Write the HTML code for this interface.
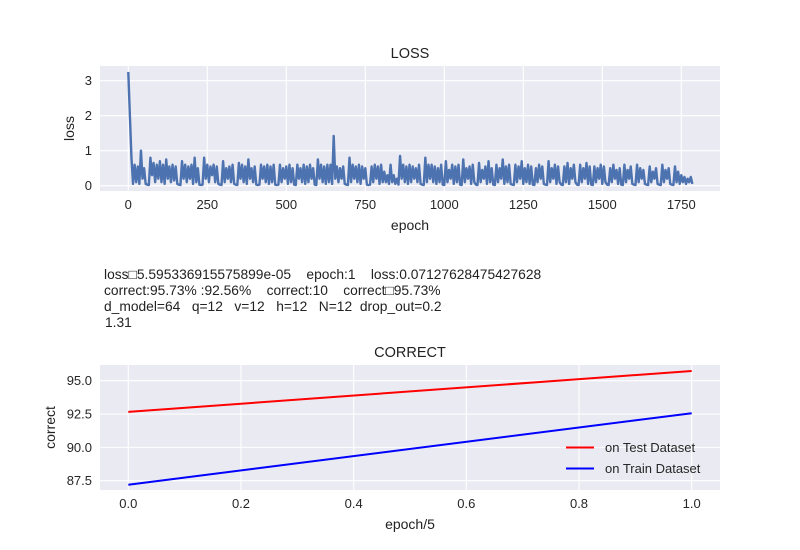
<!DOCTYPE html>
<html><head><meta charset="utf-8"><style>
body{margin:0;background:#fff;}
svg{display:block;font-family:"Liberation Sans","DejaVu Sans",sans-serif;}
</style></head><body>
<svg id="chart" width="800" height="550">
<g id="topChart"></g>
<g id="botChart"></g>
<g font-size="13.8" fill="#222">
<text x="104" y="279" xml:space="preserve">loss□5.595336915575899e-05    epoch:1    loss:0.07127628475427628</text>
<text x="104" y="295" xml:space="preserve">correct:95.73% :92.56%    correct:10    correct□95.73%</text>
<text x="104" y="311" xml:space="preserve">d_model=64   q=12   v=12   h=12   N=12  drop_out=0.2</text>
<text x="105" y="327">1.31</text>
</g>
</svg>
<script>
const lossValues=[
3.25,2.0,0.8,0.05,0.6,0.1,0.55,0.05,1.0,0.2,0.5,0.05,
0.03,0.02,0.8,0.3,0.65,0.1,0.6,0.2,0.7,0.1,0.6,0.05,
0.75,0.2,0.55,0.1,0.6,0.15,0.55,0.05,0.03,0.02,0.7,0.2,
0.6,0.1,0.55,0.2,0.6,0.05,0.8,0.1,0.5,0.03,0.02,0.03,
0.8,0.2,0.6,0.1,0.55,0.3,0.6,0.1,0.55,0.05,0.03,0.02,
0.7,0.1,0.5,0.2,0.55,0.1,0.6,0.05,0.03,0.02,0.65,0.2,
0.6,0.1,0.55,0.05,0.75,0.2,0.5,0.1,0.55,0.03,0.02,0.03,
0.6,0.2,0.55,0.1,0.6,0.05,0.55,0.1,0.6,0.03,0.02,0.03,
0.6,0.1,0.5,0.2,0.55,0.05,0.6,0.1,0.5,0.03,0.02,0.6,
0.2,0.5,0.1,0.6,0.05,0.55,0.1,0.6,0.2,0.5,0.03,0.02,
0.75,0.2,0.6,0.1,0.55,0.05,0.6,0.1,0.6,0.05,1.42,0.2,
0.55,0.1,0.5,0.2,0.55,0.05,0.03,0.02,0.8,0.1,0.6,0.2,
0.55,0.1,0.6,0.05,0.55,0.2,0.5,0.03,0.02,0.03,0.55,0.1,
0.6,0.2,0.55,0.05,0.6,0.1,0.4,0.1,0.3,0.05,0.6,0.1,
0.3,0.05,0.2,0.03,0.85,0.2,0.6,0.1,0.55,0.05,0.6,0.1,
0.55,0.2,0.5,0.1,0.6,0.05,0.03,0.02,0.8,0.1,0.6,0.2,
0.6,0.1,0.55,0.05,0.5,0.1,0.6,0.03,0.02,0.7,0.1,0.45,
0.2,0.6,0.05,0.55,0.1,0.6,0.03,0.02,0.75,0.1,0.5,0.2,
0.55,0.05,0.6,0.1,0.03,0.02,0.65,0.1,0.45,0.2,0.55,0.05,
0.7,0.1,0.5,0.03,0.02,0.6,0.1,0.5,0.2,0.75,0.05,0.55,
0.1,0.6,0.05,0.03,0.02,0.6,0.1,0.55,0.2,0.7,0.05,0.5,
0.1,0.6,0.05,0.55,0.03,0.02,0.5,0.1,0.6,0.2,0.55,0.05,
0.03,0.02,0.7,0.1,0.5,0.2,0.6,0.05,0.55,0.1,0.03,0.02,
0.55,0.1,0.65,0.05,0.5,0.2,0.6,0.1,0.03,0.02,0.6,0.1,
0.5,0.2,0.65,0.05,0.55,0.03,0.02,0.55,0.1,0.5,0.2,0.6,
0.05,0.55,0.1,0.03,0.02,0.5,0.1,0.6,0.2,0.45,0.05,0.5,
0.03,0.02,0.6,0.1,0.45,0.2,0.55,0.05,0.03,0.02,0.6,0.1,
0.5,0.2,0.45,0.05,0.03,0.02,0.55,0.1,0.4,0.2,0.5,0.05,
0.03,0.02,0.6,0.1,0.45,0.2,0.5,0.05,0.03,0.02,0.55,0.1,
0.4,0.05,0.3,0.1,0.25,0.05,0.2,0.1,0.25,0.05];
const lossEpochStep=5;
const lossXTicks=[0,250,500,750,1000,1250,1500,1750];
const lossYTicks=[0,1,2,3];
const corrX=[0,1];
const testCorrect=[92.66,95.73];
const trainCorrect=[87.2,92.56];
const corrXTicks=[0,0.2,0.4,0.6,0.8,1.0];
const corrYTicks=[87.5,90.0,92.5,95.0];

const NS="http://www.w3.org/2000/svg";
function mk(p,tag,at,txt){const e=document.createElementNS(NS,tag);for(const k in at)e.setAttribute(k,at[k]);if(txt!==undefined)e.textContent=txt;p.appendChild(e);return e;}

function axes(g,L,T,R,B,xs,ys,xt,yt,xfmt,yfmt,title,xl,yl,ylx){
  const bg=mk(g,'rect',{x:L,y:T,width:R-L,height:B-T,fill:'#eaeaf2'});
  
  
  xt.forEach(v=>{const x=xs(v);
    const l=mk(g,'line',{x1:x,x2:x,y1:T,y2:B,stroke:'#fff','stroke-width':1.1});
    
    
    const t=mk(g,'text',{x:x,y:B+18,'text-anchor':'middle','font-size':13,fill:'#262626'},xfmt(v));
    
    });
  yt.forEach(v=>{const y=ys(v);
    const l=mk(g,'line',{x1:L,x2:R,y1:y,y2:y,stroke:'#fff','stroke-width':1.1});
    
    
    const t=mk(g,'text',{x:L-8,y:y+4.5,'text-anchor':'end','font-size':13,fill:'#262626'},yfmt(v));
    
    });
  const tt=mk(g,'text',{x:(L+R)/2,y:T-8,'text-anchor':'middle','font-size':14.5,fill:'#222'},title);
  
  
  const xa=mk(g,'text',{x:(L+R)/2,y:B+39,'text-anchor':'middle','font-size':14,fill:'#222'},xl);
  
  
  const cy=(T+B)/2;
  const ya=mk(g,'text',{x:0,y:0,'text-anchor':'middle','font-size':14,fill:'#222',transform:`translate(${ylx},${cy}) rotate(-90)`},yl);
  
  
}

// top chart
const topG=document.getElementById('topChart');
const tL=100,tR=720,tT=66,tB=191;
const txs=v=>128.3+v*0.316, tys=v=>185.7-v*35;
axes(topG,tL,tT,tR,tB,txs,tys,lossXTicks,lossYTicks,v=>String(v),v=>String(v),'LOSS','epoch','loss',74);
const lp=mk(topG,'polyline',{fill:'none',stroke:'#4c72b0','stroke-width':2.4,'stroke-linejoin':'round',points:lossValues.map((v,i)=>txs(i*lossEpochStep)+','+tys(v)).join(' ')});



// bottom chart
const botG=document.getElementById('botChart');
const bL=100,bR=720,bT=365,bB=490;
const bxs=v=>128.3+v*563.4, bys=v=>380.7-(v-95)*13.333;
axes(botG,bL,bT,bR,bB,bxs,bys,corrXTicks,corrYTicks,v=>v.toFixed(1),v=>v.toFixed(1),'CORRECT','epoch/5','correct',55);
const tl=mk(botG,'polyline',{fill:'none',stroke:'#ff0000','stroke-width':2,points:corrX.map((x,i)=>bxs(x)+','+bys(testCorrect[i])).join(' ')});


const trl=mk(botG,'polyline',{fill:'none',stroke:'#0000ff','stroke-width':2,points:corrX.map((x,i)=>bxs(x)+','+bys(trainCorrect[i])).join(' ')});


// legend
const lg=mk(botG,'g',{});


[['on Test Dataset','#ff0000',447.5],['on Train Dataset','#0000ff',468.5]].forEach(([lab,c,y])=>{
  const e=mk(lg,'g',{});
  
  
  mk(e,'line',{x1:566,x2:594,y1:y,y2:y,stroke:c,'stroke-width':2});
  mk(e,'text',{x:605,y:y+4.5,'font-size':13,fill:'#262626'},lab);
});
</script>
</body></html>
